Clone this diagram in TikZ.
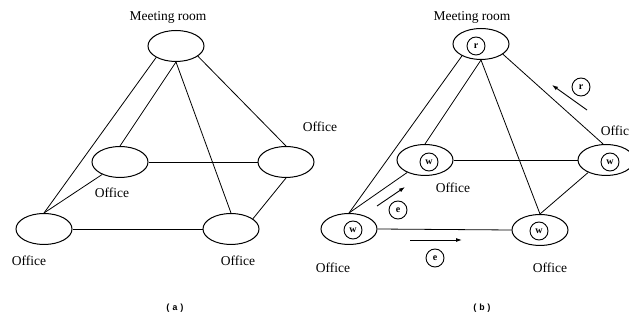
\documentclass[tikz,border=0pt]{standalone}
\usepackage{fontspec}
\setmainfont{Liberation Serif}
\newfontfamily\capfont{Liberation Mono}
\usetikzlibrary{arrows.meta,shapes.geometric}
\begin{document}
\begin{tikzpicture}[x=1pt,y=-1pt,
  room/.style={draw, ellipse, line width=1pt, minimum width=56pt, minimum height=31pt, inner sep=0pt},
  lbl/.style={font=\fontsize{13.5}{15}\selectfont, inner sep=0pt},
  tok/.style={draw, circle, line width=0.9pt, minimum size=18pt, inner sep=0pt, font=\fontsize{10}{10}\selectfont\bfseries},
  link/.style={line width=0.8pt},
  arr/.style={-{Latex[length=6pt,width=4pt]}, line width=0.9pt},
  capstyle/.style={font=\capfont\fontsize{9}{10}\selectfont\bfseries, inner sep=0pt}]
\clip (0,0) rectangle (629,328);
\fill[white] (0,0) rectangle (629,328);
% ---------- (a) ----------
\node[room] (amr) at (176,46) {};
\node[room] (aml) at (120,162) {};
\node[room] (ar)  at (286,162) {};
\node[room] (abl) at (44,229) {};
\node[room] (abr) at (231,229) {};
\node[lbl] (tamr) at (168,17) {Meeting room};
\node[lbl] (taml) at (112,193) {Office};
\node[lbl] (tar)  at (320,127) {Office};
\node[lbl] (tabl) at (29,261) {Office};
\node[lbl] (tabr) at (238,261) {Office};
\draw[link] (amr.210) -- (abl.north);
\draw[link] (amr.south) -- (aml.north);
\draw[link] (amr.south) -- (abr.north);
\draw[link] (amr.335) -- (ar.north);
\draw[link] (aml.east) -- (ar.west);
\draw[link] (aml.215) -- (abl.north);
\draw[link] (abl.east) -- (abr.west);
\draw[link] (abr.25) -- (ar.south);
\node[capstyle] (capa) at (175,308) {(\hspace{1.5pt}a\hspace{1.5pt})};
% ---------- (b) ----------
\node[room] (bmr) at (481,44) {};
\node[room] (bml) at (425,160) {};
\node[room] (br)  at (606,160) {};
\node[room] (bbl) at (349,229) {};
\node[room] (bbr) at (540,230) {};
\node[tok] (kmr) at (476,46) {r};
\node[tok] (kml) at (429,162) {w};
\node[tok] (kr)  at (610,162) {w};
\node[tok] (kbl) at (353,230) {w};
\node[tok] (kbr) at (539,231) {w};
\node[lbl] (tbmr) at (472,17) {Meeting room};
\node[lbl] (tbml) at (453,188) {Office};
\node[lbl] (tbr)  at (618,131) {Office};
\node[lbl] (tbbl) at (333,268) {Office};
\node[lbl] (tbbr) at (550,268) {Office};
\draw[link] (bmr.212) -- (bbl.north);
\draw[link] (bmr.south) -- (bml.north);
\draw[link] (bmr.south) -- (bbr.north);
\draw[link] (bmr.335) -- (br.100);
\draw[link] (bml.east) -- (br.west);
\draw[link] (bml.215) -- (bbl.north);
\draw[link] (bbl.east) -- (bbr.west);
\draw[link] (bbr.north) -- (br.215);
\coordinate (e1s) at (377,206);
\coordinate (e1t) at (405,187);
\coordinate (e2s) at (410,240);
\coordinate (e2t) at (462,240);
\coordinate (r1s) at (587,110);
\coordinate (r1t) at (552,85);
\draw[arr] (e1s) -- (e1t);
\draw[arr] (e2s) -- (e2t);
\draw[arr] (r1s) -- (r1t);
\node[tok] (ke1) at (398,210) {e};
\node[tok] (ke2) at (435,258) {e};
\node[tok] (kr1) at (581,87) {r};
\node[capstyle] (capb) at (482,308) {(\hspace{1.5pt}b\hspace{1.5pt})};
\end{tikzpicture}
\end{document}
